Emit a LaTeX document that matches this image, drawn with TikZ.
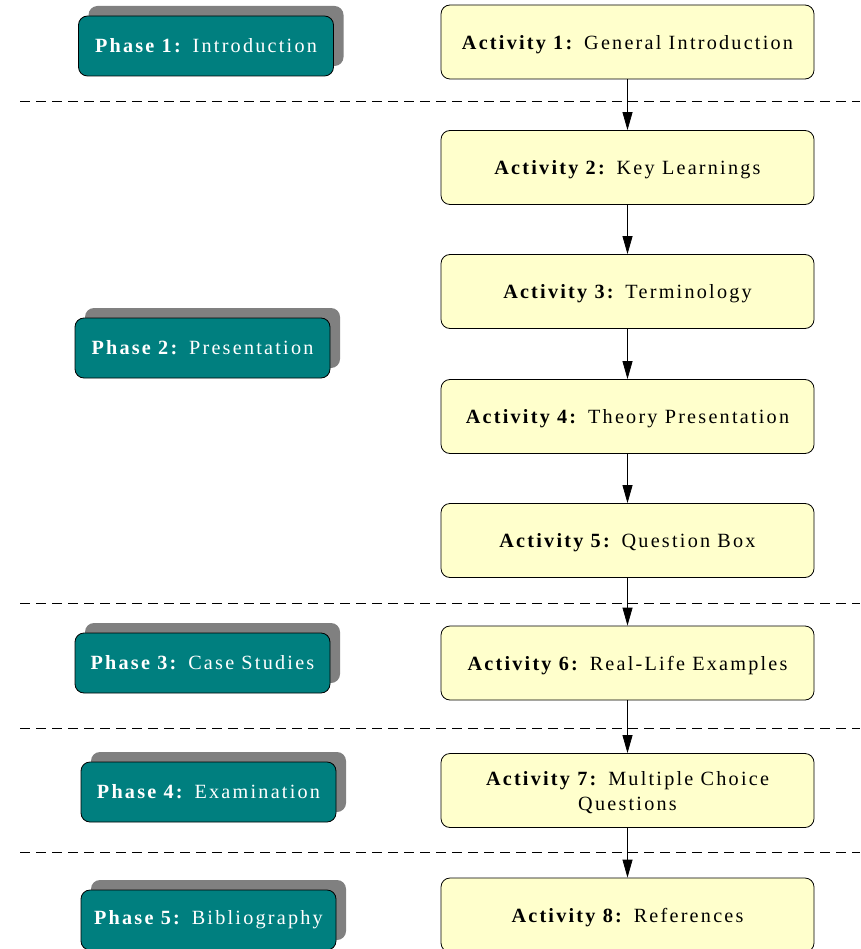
\documentclass[tikz,border=0pt]{standalone}
\usepackage{fontspec}
\setmainfont{Liberation Serif}[LetterSpace=11]
\usetikzlibrary{arrows.meta}
\definecolor{actfill}{HTML}{FFFFCC}
\definecolor{phasefill}{HTML}{007F7F}
\definecolor{shadowgray}{HTML}{808080}
\tikzset{
  actbox/.style={draw=black, line width=0.8pt, fill=actfill, rounded corners=9pt,
    minimum width=373pt, minimum height=74pt, inner sep=0pt, align=center,
    text depth=0pt, font=\fontsize{20.2}{25}\selectfont},
  phasebox/.style={draw=black, line width=0.8pt, fill=phasefill, rounded corners=9pt,
    minimum width=255pt, minimum height=60pt, inner sep=0pt, text=white,
    font=\fontsize{20.2}{25}\selectfont},
  shadowbox/.style={fill=shadowgray, rounded corners=9pt,
    minimum width=255pt, minimum height=60pt, inner sep=0pt},
  sep/.style={draw=black, line width=0.8pt, dash pattern=on 10pt off 6pt},
  flow/.style={draw=black, line width=0.8pt, -{Triangle[length=18pt,width=10pt]}}
}
\begin{document}
\begin{tikzpicture}[x=1pt,y=-1pt]
\useasboundingbox (0,0) rectangle (860,949);
\clip (0,0) rectangle (860,949);
\fill[white] (0,0) rectangle (860,949);
% separators
\coordinate (s1a) at (20,101); \coordinate (s1b) at (860,101);
\coordinate (s2a) at (20,603); \coordinate (s2b) at (860,603);
\coordinate (s3a) at (20,728); \coordinate (s3b) at (860,728);
\coordinate (s4a) at (20,852); \coordinate (s4b) at (860,852);
\draw[sep] (s1a) -- (s1b);
\draw[sep] (s2a) -- (s2b);
\draw[sep] (s3a) -- (s3b);
\draw[sep] (s4a) -- (s4b);
% phases
\node[shadowbox] (p1s) at (216,36) {};
\node[phasebox] (p1) at (206,46) {\textbf{Phase 1:} Introduction};
\node[shadowbox] (p2s) at (212.5,338) {};
\node[phasebox] (p2) at (202.5,348) {\textbf{Phase 2:} Presentation};
\node[shadowbox] (p3s) at (212.5,653) {};
\node[phasebox] (p3) at (202.5,663) {\textbf{Phase 3:} Case Studies};
\node[shadowbox] (p4s) at (218.5,782) {};
\node[phasebox] (p4) at (208.5,792) {\textbf{Phase 4:} Examination};
\node[shadowbox] (p5s) at (218.5,910) {};
\node[phasebox] (p5) at (208.5,920) {\textbf{Phase 5:} Bibliography};
% activities
\node[actbox] (a1) at (627.5,42) {\textbf{Activity 1:} General Introduction};
\node[actbox] (a2) at (627.5,167.5) {\textbf{Activity 2:} Key Learnings};
\node[actbox] (a3) at (627.5,291.5) {\textbf{Activity 3:} Terminology};
\node[actbox] (a4) at (627.5,416.5) {\textbf{Activity 4:} Theory Presentation};
\node[actbox] (a5) at (627.5,540.5) {\textbf{Activity 5:} Question Box};
\node[actbox] (a6) at (627.5,663) {\textbf{Activity 6:} Real-Life Examples};
\node[actbox] (a7) at (627.5,790.5) {\textbf{Activity 7:} Multiple Choice\\Questions};
\node[actbox] (a8) at (627.5,915) {\textbf{Activity 8:} References};
% arrows
\draw[flow] (a1) -- (a2);
\draw[flow] (a2) -- (a3);
\draw[flow] (a3) -- (a4);
\draw[flow] (a4) -- (a5);
\draw[flow] (a5) -- (a6);
\draw[flow] (a6) -- (a7);
\draw[flow] (a7) -- (a8);
\end{tikzpicture}
\end{document}
